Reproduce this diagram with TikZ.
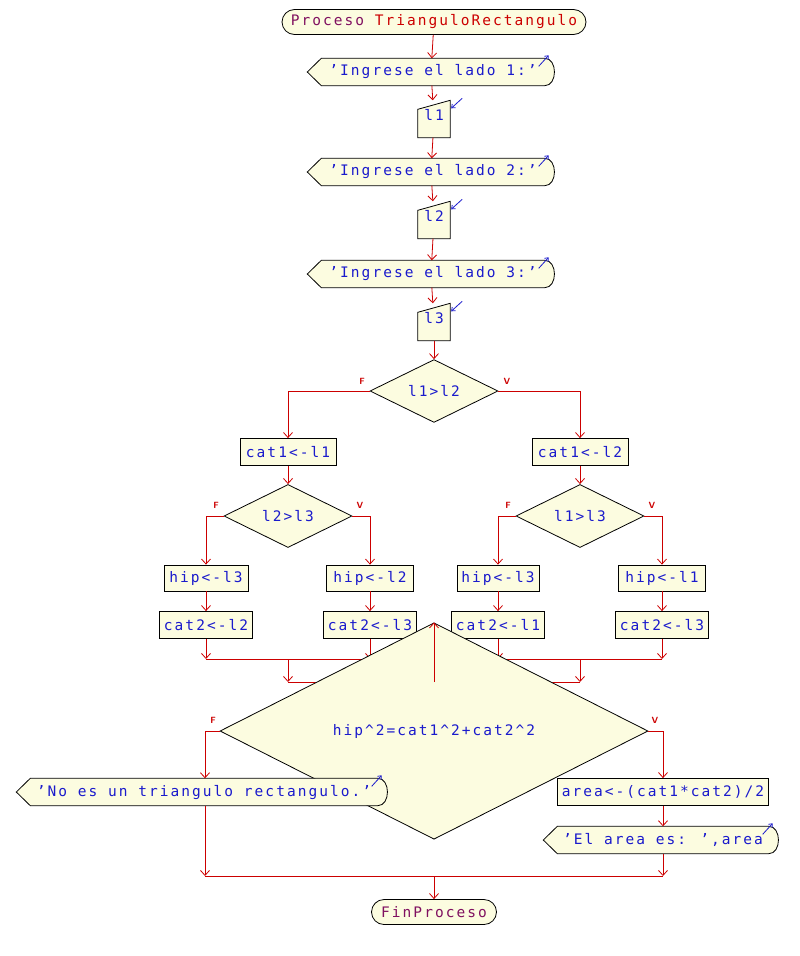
\documentclass[tikz,border=0pt]{standalone}
\usepackage{fontspec}
\setmainfont{DejaVu Sans Mono}[LetterSpace=14]
\usetikzlibrary{shapes.geometric,shapes.misc,arrows.meta}
\definecolor{fillc}{HTML}{FCFCE0}
\definecolor{linec}{HTML}{CC0000}
\definecolor{txtc}{HTML}{1A1ACC}
\definecolor{procc}{HTML}{801060}
\begin{document}
\begin{tikzpicture}[x=1pt,y=-1pt,
  every node/.style={font=\fontsize{14.5}{16}\selectfont, text=txtc, inner sep=0pt},
  box/.style={rectangle,draw=black,fill=fillc,thick,minimum height=27},
  term/.style={rounded rectangle,draw=black,fill=fillc,thick,minimum height=25},
  dia/.style={diamond,draw=black,fill=fillc,thick,minimum height=53},
  blank/.style={rectangle,minimum height=27},
  shp/.style={draw=black,fill=fillc,thick},
  con/.style={draw=linec,thick,-{Straight Barb[length=5pt,width=9pt]}},
  ln/.style={draw=linec,thick},
  lab/.style={font=\sffamily\bfseries\fontsize{9}{10}\selectfont,text=linec},
  ico/.style={draw=txtc,thick}]
\useasboundingbox (0,0) rectangle (800,956);
\newcommand{\outsh}[4]{%
  \node[blank,minimum width=#3] (#1) at (#2) {};
  \path[shp] ([xshift=14]#1.north west) -- ([xshift=-10]#1.north east)
   .. controls ([xshift=3]#1.north east) and ([xshift=3]#1.south east) .. ([xshift=-10]#1.south east)
   -- ([xshift=14]#1.south west) -- (#1.west) -- cycle;
  \draw[ico,-{Straight Barb[length=3pt,width=5pt]}] ([xshift=-16,yshift=-8]#1.north east) -- ([xshift=-6,yshift=3]#1.north east);
  \node[anchor=center] (#1t) at ([xshift=2]#1.center) {#4};}
\newcommand{\insh}[3]{%
  \node[blank,minimum width=32,minimum height=37] (#1) at (#2) {};
  \path[shp] (#1.south west) -- ([yshift=-9]#1.north west) -- (#1.north east) -- (#1.south east) -- cycle;
  \draw[ico,-{Straight Barb[length=3pt,width=5pt]}] ([xshift=12,yshift=2]#1.north east) -- ([xshift=1,yshift=-8]#1.north east);
  \node (#1t) at ([yshift=4]#1.center) {#3};}
% start
\node[term,minimum width=304,text=procc] (p) at (434,22) {Proceso \textcolor{linec}{TrianguloRectangulo}};
\outsh{o1}{431,72}{247}{'Ingrese el lado 1:'}
\insh{i1}{434,119}{l1}
\outsh{o2}{431,172}{247}{'Ingrese el lado 2:'}
\insh{i2}{434,220}{l2}
\outsh{o3}{431,274}{247}{'Ingrese el lado 3:'}
\insh{i3}{434,322}{l3}
\draw[con] (p) -- (o1);
\draw[con] (o1) -- (i1);
\draw[con] (i1) -- (o2);
\draw[con] (o2) -- (i2);
\draw[con] (i2) -- (o3);
\draw[con] (o3) -- (i3);
% decision 1
\node[dia,minimum width=128] (d1) at (434,391) {l1>l2};
\draw[con] (i3) -- (d1);
\node[box,minimum width=96] (c1a) at (288,452) {cat1<-l1};
\node[box,minimum width=96] (c1b) at (580,452) {cat1<-l2};
\draw[con] (d1.west) -| (c1a);
\draw[con] (d1.east) -| (c1b);
\node[lab] at (362,381) {F};
\node[lab] at (507,381) {V};
% decision 2 and 3
\node[dia,minimum width=128,minimum height=52] (d2) at (288,516) {l2>l3};
\node[dia,minimum width=128,minimum height=52] (d3) at (580,516) {l1>l3};
\draw[con] (c1a) -- (d2);
\draw[con] (c1b) -- (d3);
\node[lab] at (216,505) {F};
\node[lab] at (360,505) {V};
\node[lab] at (508,505) {F};
\node[lab] at (652,505) {V};
\node[box,minimum width=84,minimum height=26] (h1) at (206,578) {hip<-l3};
\node[box,minimum width=87,minimum height=26] (h2) at (370,578) {hip<-l2};
\node[box,minimum width=82,minimum height=26] (h3) at (498,578) {hip<-l3};
\node[box,minimum width=87,minimum height=26] (h4) at (662,578) {hip<-l1};
\node[box,minimum width=93] (k1) at (206,625) {cat2<-l2};
\node[box,minimum width=93] (k2) at (370,625) {cat2<-l3};
\node[box,minimum width=93] (k3) at (498,625) {cat2<-l1};
\node[box,minimum width=93] (k4) at (662,625) {cat2<-l3};
\draw[con] (d2.west) -| (h1);
\draw[con] (d2.east) -| (h2);
\draw[con] (d3.west) -| (h3);
\draw[con] (d3.east) -| (h4);
\foreach \a/\b in {h1/k1,h2/k2,h3/k3,h4/k4} \draw[con] (\a) -- (\b);
\coordinate (m1) at (206,659); \coordinate (m2) at (370,659);
\coordinate (m3) at (498,659); \coordinate (m4) at (662,659);
\coordinate (mA) at (288,659); \coordinate (mB) at (580,659);
\coordinate (nA) at (288,682); \coordinate (nB) at (580,682);
\coordinate (nC) at (434,682);
\draw[con] (k1) -- (m1); \draw[con] (k2) -- (m2);
\draw[con] (k3) -- (m3); \draw[con] (k4) -- (m4);
\draw[ln] (m1) -- (m2); \draw[ln] (m3) -- (m4);
\draw[con] (mA) -- (nA); \draw[con] (mB) -- (nB);
\draw[ln] (nA) -- (nB);
% decision 4
\node[dia,minimum width=428,minimum height=52] (d4) at (434,731) {hip\^{}2=cat1\^{}2+cat2\^{}2};
\draw[con] (nC) -- (d4);
\node[lab] at (213,720) {F};
\node[lab] at (655,720) {V};
\outsh{o4}{202,792}{371}{'No es un triangulo rectangulo.'}
\node[box,minimum width=211] (ar) at (663,792) {area<-(cat1*cat2)/2};
\outsh{o5}{661,840}{235}{'El area es: ',area}
\coordinate (e1) at (205,876); \coordinate (e2) at (663,876);
\coordinate (e3) at (434,876);
\draw[con] (d4.west) -| (o4.north -| e1);
\draw[con] (d4.east) -| (ar);
\draw[con] (ar) -- (o5.north -| e2);
\draw[con] (o4.south -| e1) -- (e1);
\draw[con] (o5.south -| e2) -- (e2);
\draw[ln] (e1) -- (e2);
\node[term,minimum width=125,text=procc] (f) at (434,912) {FinProceso};
\draw[con] (e3) -- (f);
\end{tikzpicture}
\end{document}
